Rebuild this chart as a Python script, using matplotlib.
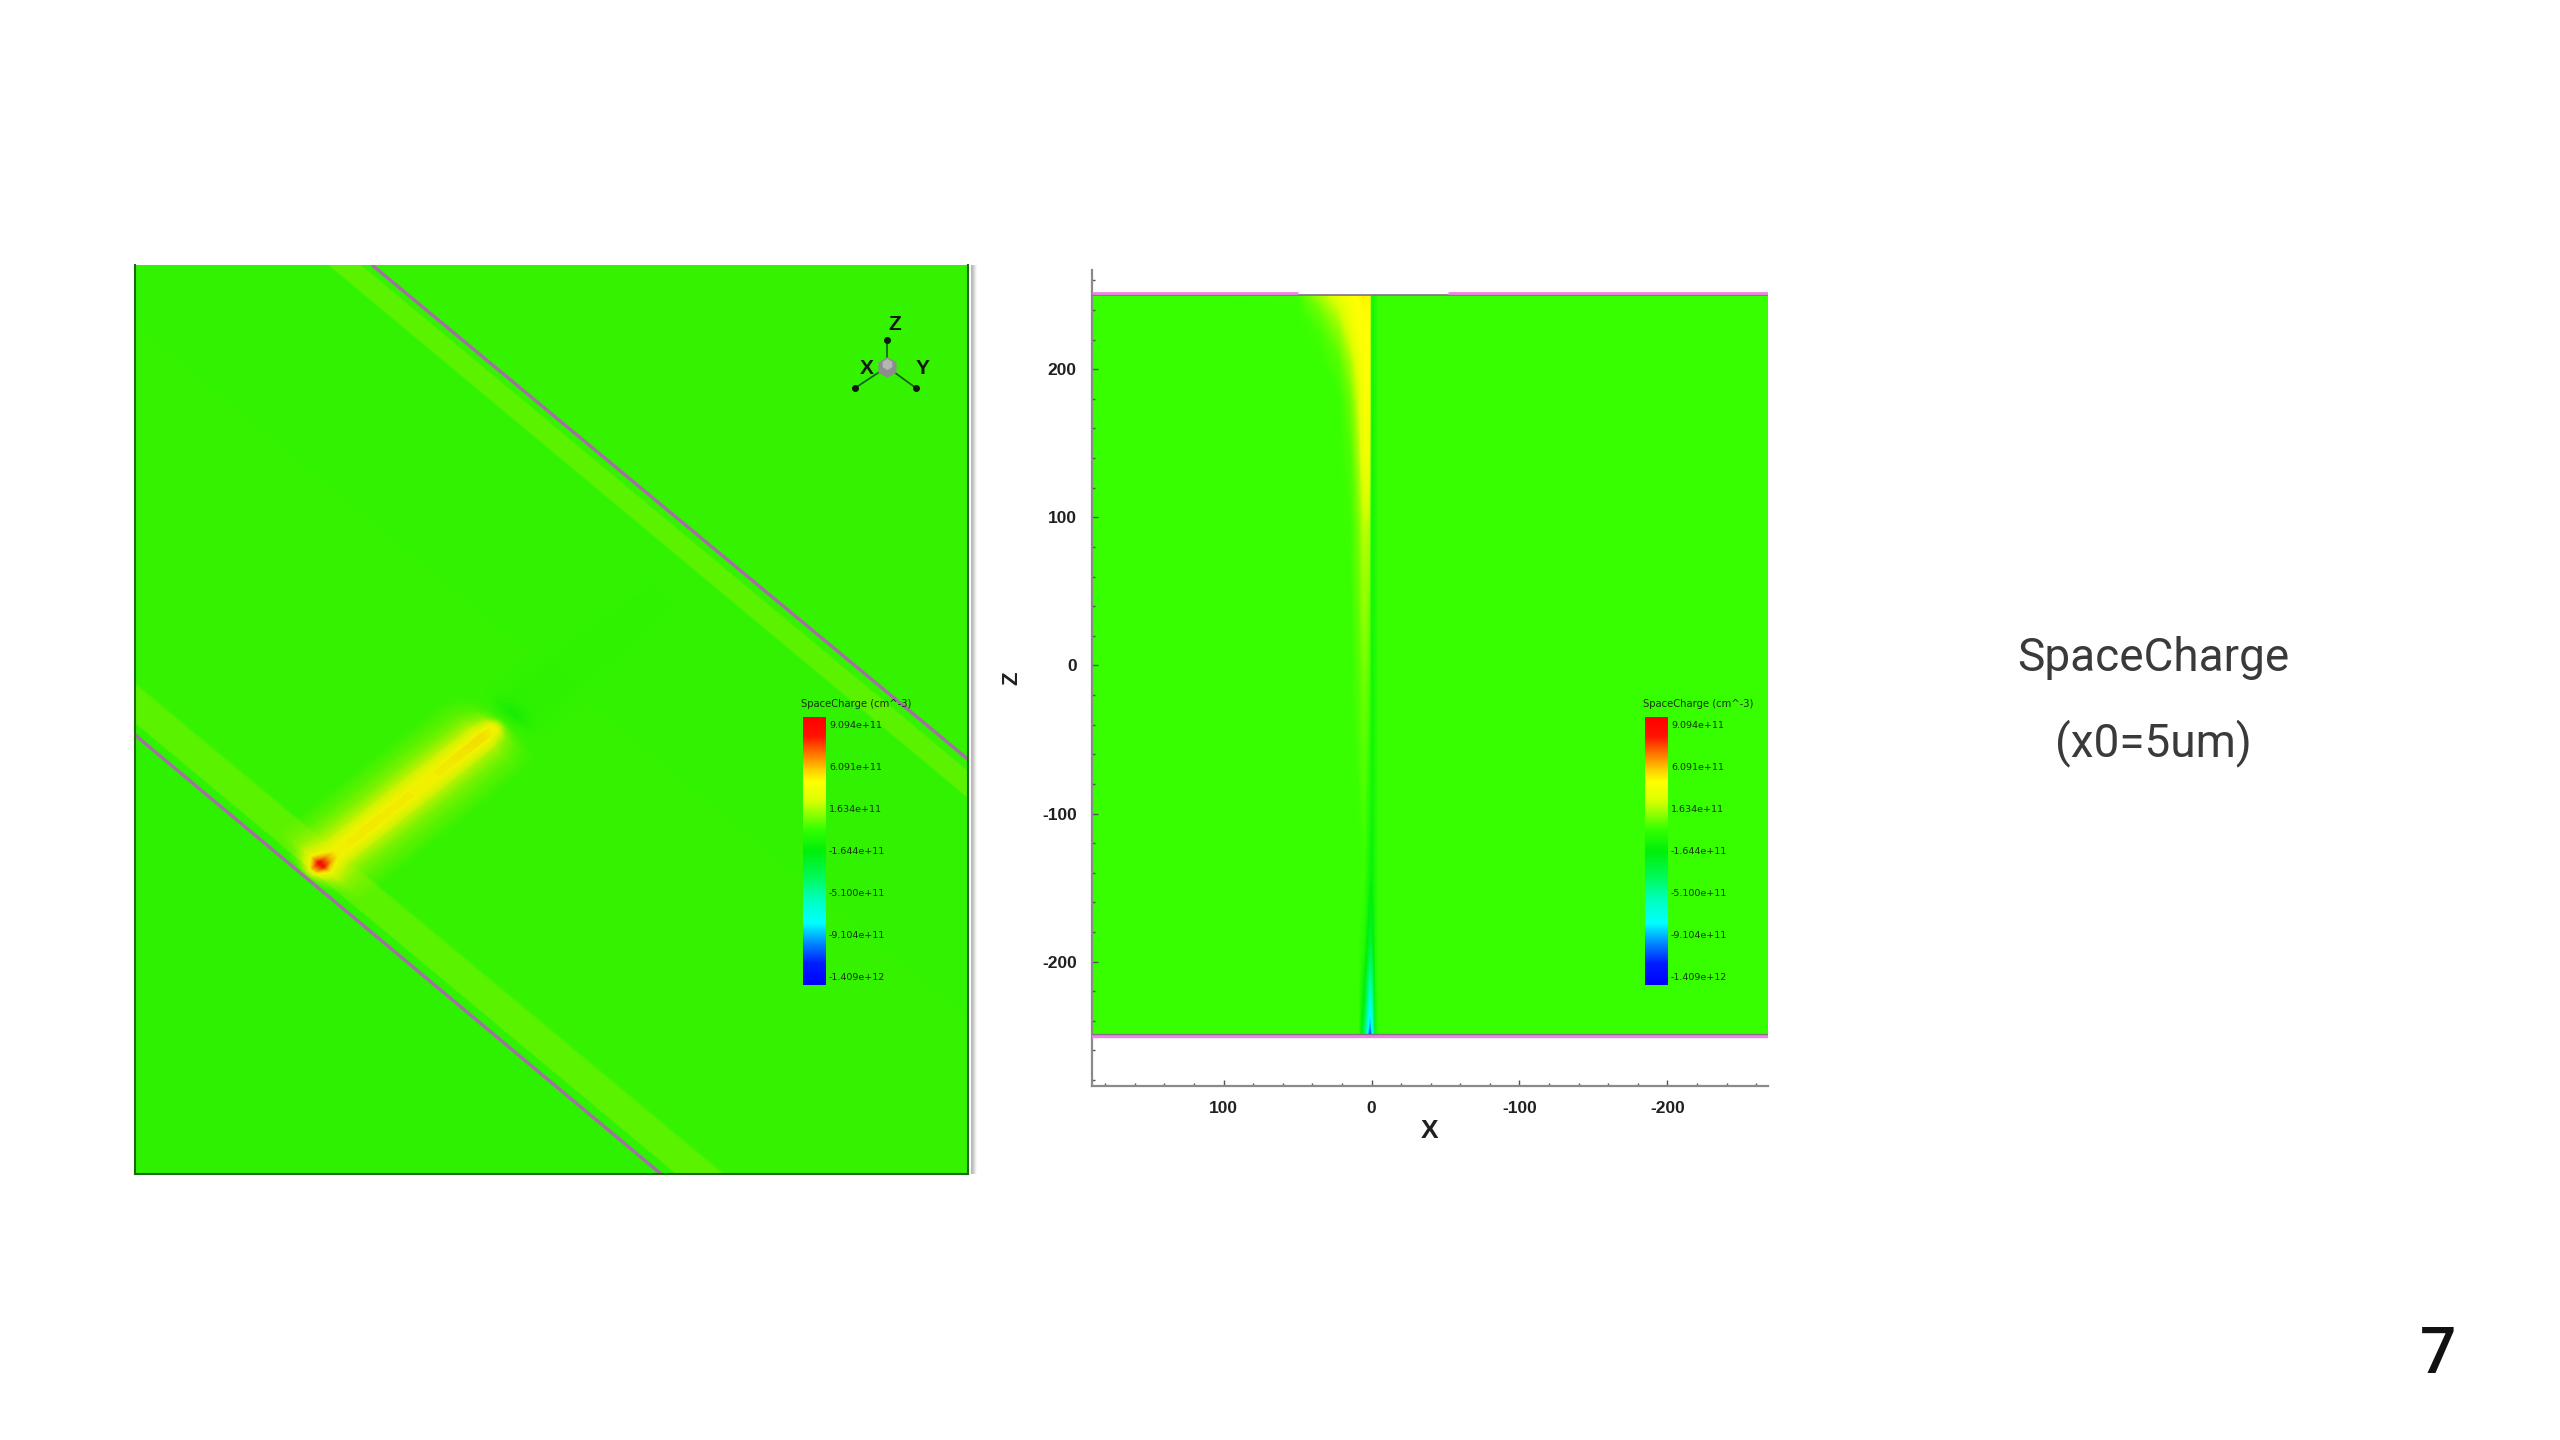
import numpy as np
import matplotlib
matplotlib.use("Agg")
import matplotlib.pyplot as plt
from matplotlib.colors import LinearSegmentedColormap

plt.rcParams["axes.unicode_minus"] = False

W, H = 2560, 1440

# colour bar, values in units of 1e11
vmax, vmin = 9.094, -14.09
bar_pos = [0, .07, .13, .20, .24, .31, .37, .42, .50, .60, .68, .77, .85, .92, 1]
bar_rgb = [(255, 0, 0), (255, 20, 0), (255, 110, 0), (255, 210, 0), (255, 255, 0),
           (220, 255, 0), (130, 255, 0), (50, 255, 0), (0, 240, 10), (0, 250, 90),
           (0, 255, 190), (0, 255, 255), (0, 130, 255), (0, 30, 255), (0, 0, 255)]
bar_labels = ["9.094e+11", "6.091e+11", "1.634e+11", "-1.644e+11",
              "-5.100e+11", "-9.104e+11", "-1.409e+12"]
bar_title = "SpaceCharge (cm^-3)"

# left panel: field on (s, t) grid, s along the walls, t along the bright streak
s_grid = [-650, -55, -40, -28, -16, -8, -3, 3, 8, 16, 28, 40, 55, 700]
t_grid = [-400, 1, 6, 9, 11, 20, 30, 38, 42, 80, 160, 225, 240, 250, 264, 280, 495, 497, 515, 517, 950]
left_field = [
    [-.75, -.75, -.75, -.75, -.75, -.75, -.75, -.75, -.75, -.75, -.75, -.75, -.75, -.75],
    [-.75, -.75, -.75, -.75, -.75, -.75, -.75, -.75, -.75, -.75, -.75, -.75, -.75, -.75],
    [-.7, -.7, -.7, -.6, 0, 1, 1.6, 1.5, .8, 0, -.6, -.7, -.7, -.7],
    [-.7, -.7, -.6, -.4, .4, 1.6, 2.8, 2.5, 1.4, .4, -.4, -.6, -.7, -.7],
    [0, 0, 0, .2, 1.2, 2.8, 4.6, 4.2, 2.5, 1, .2, 0, 0, 0],
    [0, 0, .3, .9, 2.4, 5.5, 7.8, 7.4, 4.6, 2.2, .9, .3, 0, 0],
    [0, 0, .3, .9, 2, 3.6, 5, 4.8, 3.4, 1.8, .8, .3, 0, 0],
    [0, 0, .3, .8, 1.8, 3, 3.6, 3.6, 2.8, 1.5, .7, .3, 0, 0],
    [-.6, -.6, -.1, .6, 1.6, 3, 3.6, 3.6, 2.8, 1.4, .4, -.1, -.6, -.6],
    [-.6, -.6, -.1, .5, 1.6, 3, 3.7, 3.7, 2.8, 1.4, .4, -.1, -.6, -.6],
    [-.6, -.6, -.1, .5, 1.6, 3, 3.6, 3.6, 2.8, 1.4, .4, -.1, -.6, -.6],
    [-.6, -.6, -.2, .3, 1.4, 3, 4, 3.9, 2.8, 1.2, .3, -.2, -.6, -.6],
    [-.6, -.6, -.4, -.1, .6, 2, 3.5, 3.4, 1.8, .5, -.1, -.4, -.6, -.6],
    [-.6, -.6, -.6, -.5, -.4, -.4, -.2, -.2, -.3, -.4, -.5, -.6, -.6, -.6],
    [-.6, -.6, -.6, -.7, -1.1, -1.5, -1.6, -1.6, -1.5, -1.1, -.7, -.6, -.6, -.6],
    [-.6, -.6, -.6, -.65, -.75, -.75, -.75, -.75, -.75, -.75, -.65, -.6, -.6, -.6],
    [-.65, -.65, -.65, -.65, -.65, -.65, -.65, -.65, -.65, -.65, -.65, -.65, -.65, -.65],
    [0, 0, 0, 0, 0, 0, 0, 0, 0, 0, 0, 0, 0, 0],
    [0, 0, 0, 0, 0, 0, 0, 0, 0, 0, 0, 0, 0, 0],
    [-.6, -.6, -.6, -.6, -.6, -.6, -.6, -.6, -.6, -.6, -.6, -.6, -.6, -.6],
    [-.55, -.55, -.55, -.55, -.55, -.55, -.55, -.55, -.55, -.55, -.55, -.55, -.55, -.55],
]
wall_a_x, wall_a_y = [237, 835], [0, 496]
wall_b_x, wall_b_y = [0, 526], [470, 909]

# right panel: field on (x, z) grid
x_grid = [-268, -5, -3, -1, .5, 1.5, 5, 9, 14, 22, 35, 50, 189]
z_grid = [250, 240, 225, 205, 180, 140, 90, 40, -20, -80, -140, -185, -215, -240, -250]
right_field = [
    [-.6, -.6, -1.2, -1.8, -1.6, 3.7, 3.8, 3.6, 3.2, 2.5, 1, -.5, -.6],
    [-.6, -.6, -1.2, -1.8, -1.6, 3.6, 3.6, 3.4, 3, 1.6, .2, -.6, -.6],
    [-.6, -.6, -1.2, -1.8, -1.6, 3.5, 3.5, 3.2, 2.2, .6, -.4, -.6, -.6],
    [-.6, -.6, -1.2, -1.8, -1.6, 3.4, 3.4, 2.4, 1, -.2, -.6, -.6, -.6],
    [-.6, -.6, -1.2, -1.8, -1.6, 3.2, 3.2, 1.6, .2, -.6, -.6, -.6, -.6],
    [-.6, -.6, -1.2, -1.8, -1.6, 2.6, 2.8, .9, -.3, -.6, -.6, -.6, -.6],
    [-.6, -.6, -1.2, -1.8, -1.6, 1, 1.4, .2, -.5, -.6, -.6, -.6, -.6],
    [-.6, -.6, -1.2, -1.8, -1.6, .3, .8, 0, -.6, -.6, -.6, -.6, -.6],
    [-.6, -.6, -1.2, -1.8, -1.6, -.4, .2, -.3, -.6, -.6, -.6, -.6, -.6],
    [-.6, -.6, -1.2, -1.8, -1.7, -1, -.2, -.5, -.6, -.6, -.6, -.6, -.6],
    [-.6, -.6, -1.2, -2, -2.2, -1.8, -.6, -.6, -.6, -.6, -.6, -.6, -.6],
    [-.6, -.6, -1.2, -3, -3.6, -3.6, -1.2, -.6, -.6, -.6, -.6, -.6, -.6],
    [-.6, -.6, -1.3, -5, -6.5, -6.5, -2.5, -.6, -.6, -.6, -.6, -.6, -.6],
    [-.6, -.6, -1.6, -7, -9.5, -9.5, -4, -.6, -.6, -.6, -.6, -.6, -.6],
    [-.6, -.6, -2, -8, -12, -12, -5, -.6, -.6, -.6, -.6, -.6, -.6],
]
x_ticks = [100, 0, -100, -200]
z_ticks = [200, 100, 0, -100, -200]
wall_pink_top = [[189, 50], [-52, -268]]

cmap = LinearSegmentedColormap.from_list(
    "spacecharge", [(p, tuple(c / 255 for c in rgb)) for p, rgb in zip(bar_pos, bar_rgb)], N=512)
# bar position 0 is the top of the bar (largest value), so flip for the norm
cmap = cmap.reversed()
# the 3D view on the left is lit a little darker
lit = cmap(np.linspace(0, 1, 512))
lit[:, :3] *= 0.95
cmap_lit = LinearSegmentedColormap.from_list("lit", lit, N=512)
levels = np.linspace(vmin, vmax, 400)


def px_axes(x0, y0, x1, y1):
    return fig.add_axes([x0 / W, 1 - y1 / H, (x1 - x0) / W, (y1 - y0) / H])


def draw_bar(x0):
    bax = px_axes(x0, 717, x0 + 23, 985)
    bax.imshow(levels[::-1].reshape(-1, 1), cmap=cmap, vmin=vmin, vmax=vmax, aspect="auto")
    bax.axis("off")
    for i, lab in enumerate(bar_labels):
        fig.text((x0 + 26) / W, 1 - (725 + 42 * i) / H, lab, fontsize=6.8, color="#101010",
                 va="center", ha="left", alpha=.85)
    fig.text((x0 - 2) / W, 1 - 704 / H, bar_title, fontsize=7.2, color="#101010",
             va="center", ha="left", alpha=.85)


fig = plt.figure(figsize=(W / 100, H / 100), dpi=100, facecolor="white")

# left panel
ax1 = px_axes(135, 265, 968, 1174)
ax1.set_xlim(0, 833)
ax1.set_ylim(909, 0)
S, T = np.meshgrid(s_grid, t_grid)
PX = 170.6 + .768 * S + .785 * T
PY = 612.2 + .64 * S - .62 * T
ax1.contourf(PX, PY, np.array(left_field), levels=levels, cmap=cmap_lit, vmin=vmin, vmax=vmax,
             antialiased=False, extend="both")
ax1.plot(wall_a_x, wall_a_y, color="#a66ea6", lw=2.4, solid_capstyle="butt")
ax1.plot(wall_b_x, wall_b_y, color="#a66ea6", lw=2.4, solid_capstyle="butt")
ax1.set_xticks([])
ax1.set_yticks([])
for side in ["left", "right", "bottom"]:
    ax1.spines[side].set_color("#1c6a10")
    ax1.spines[side].set_linewidth(1.5)
ax1.spines["top"].set_visible(False)

# orientation triad
cx, cy = 752, 102
for dx, dy in [(0, -27), (-32, 21), (29, 21)]:
    ax1.plot([cx, cx + dx], [cy, cy + dy], color="#0f5a20", lw=1.2)
    ax1.plot(cx + dx, cy + dy, marker="o", ms=4, color="#101810")
ax1.plot(cx, cy, marker="h", ms=15, color="#8d8d8d", mec="none")
ax1.plot(cx, cy - 3, marker="h", ms=8, color="#b5b5b5", mec="none")
for lab, tx, ty in [("Z", 760, 60), ("X", 732, 103), ("Y", 788, 103)]:
    ax1.text(tx, ty, lab, fontsize=15, color="#101810", ha="center", va="center",
             family="Liberation Sans", weight="bold")

# grey strip right of the left panel
strip = px_axes(971, 265, 977, 1174)
strip.imshow(np.array([[.72, .74, .8, .86, .92, .97]]), cmap="gray", vmin=0, vmax=1, aspect="auto")
strip.axis("off")

# right panel
ax2 = px_axes(1092, 270, 1768, 1086)
ax2.set_xlim(189, -268)
ax2.set_ylim(-284, 267)
ax2.contourf(x_grid, z_grid, np.array(right_field), levels=levels, cmap=cmap, vmin=vmin, vmax=vmax,
             antialiased=False, extend="both")
ax2.plot([189, -268], [250, 250], color="#807080", lw=1.2, zorder=3)
for seg in wall_pink_top:
    ax2.plot(seg, [251.5, 251.5], color="#ee82e6", lw=2, zorder=4, solid_capstyle="butt")
ax2.plot([189, -268], [-250, -250], color="#ee82e6", lw=2.4, zorder=3)
ax2.plot([189, -268], [-249, -249], color="#807080", lw=.9, zorder=4)
ax2.set_xticks(x_ticks)
ax2.set_yticks(z_ticks)
ax2.set_xticks(np.arange(-260, 189, 20), minor=True)
ax2.set_yticks(np.arange(-280, 267, 20), minor=True)
ax2.tick_params(which="major", direction="in", length=4, width=1, color="#555555", pad=11)
ax2.tick_params(which="minor", direction="in", length=2.5, width=1, color="#555555")
ax2.spines["top"].set_visible(False)
ax2.spines["right"].set_visible(False)
for side in ["left", "bottom"]:
    ax2.spines[side].set_color("#8a8a8a")
    ax2.spines[side].set_linewidth(1.6)
for lab in ax2.get_xticklabels() + ax2.get_yticklabels():
    lab.set_family("Liberation Sans")
    lab.set_weight("bold")
    lab.set_fontsize(12.5)
    lab.set_color("#202020")
ax2.set_xlabel("X", fontsize=19, family="Liberation Sans", weight="bold", color="#202020", labelpad=2)
ax2.set_ylabel("Z", fontsize=16, family="Liberation Sans", weight="bold", color="#202020", labelpad=14)

draw_bar(803)
draw_bar(1645)

# slide text
fig.text(2153 / W, 1 - 658 / H, "SpaceCharge", fontsize=33, family="Roboto", weight="normal",
         color="#3a3a3a", ha="center", va="center")
fig.text(2153 / W, 1 - 743 / H, "(x0=5um)", fontsize=33, family="Roboto", weight="normal",
         color="#3a3a3a", ha="center", va="center")
fig.text(2438 / W, 1 - 1355 / H, "7", fontsize=46, family="Roboto", weight="medium",
         color="#111111", ha="center", va="center")

fig.savefig("out.png", dpi=100)
